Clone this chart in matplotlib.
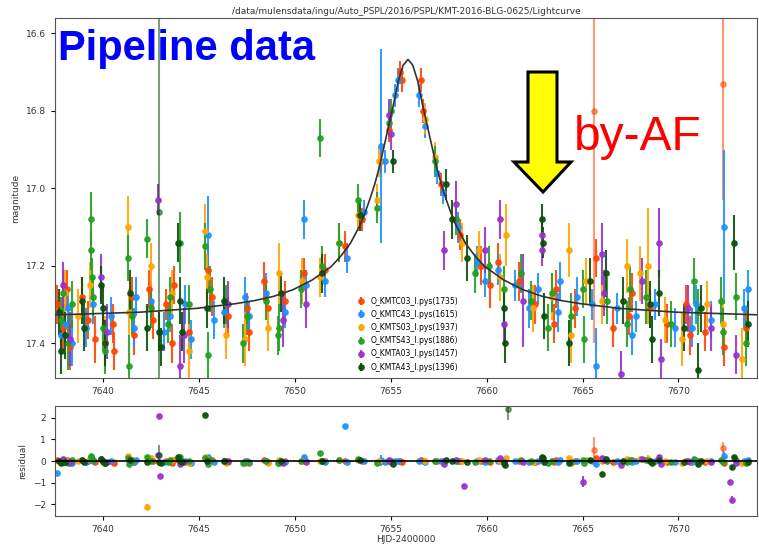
import numpy as np
import matplotlib.pyplot as plt
from matplotlib.patches import Polygon

title = "/data/mulensdata/ingu/Auto_PSPL/2016/PSPL/KMT-2016-BLG-0625/Lightcurve"

# PSPL model curve (HJD-2400000, I mag)
model_t = [7637.5, 7641.9, 7644.9, 7646.9, 7647.9, 7648.9, 7649.9, 7650.9, 7651.9, 7652.4,
           7652.9, 7653.4, 7653.65, 7653.9, 7654.15, 7654.4, 7654.65, 7654.9, 7655.15, 7655.4,
           7655.65, 7655.9, 7656.15, 7656.4, 7656.65, 7656.9, 7657.15, 7657.4, 7657.65, 7657.9,
           7658.15, 7658.4, 7658.9, 7659.4, 7659.9, 7660.9, 7661.9, 7662.9, 7663.9, 7664.9,
           7666.9, 7669.9, 7674.3]
model_mag = [17.327, 17.320, 17.310, 17.298, 17.290, 17.279, 17.262, 17.237, 17.202, 17.175,
             17.142, 17.095, 17.065, 17.030, 16.992, 16.947, 16.892, 16.837, 16.782, 16.722,
             16.682, 16.667, 16.682, 16.722, 16.782, 16.837, 16.892, 16.947, 16.992, 17.030,
             17.065, 17.095, 17.142, 17.175, 17.202, 17.237, 17.262, 17.279, 17.290, 17.298,
             17.310, 17.320, 17.327]

# photometry rows: (hjd, mag, err)
kmtc03 = [(7637.6, 17.30, 0.05), (7637.9, 17.36, 0.06), (7638.3, 17.41, 0.06), (7638.9, 17.28, 0.05),
          (7639.2, 17.34, 0.05), (7639.6, 17.39, 0.06), (7640.5, 17.35, 0.05), (7640.6, 17.42, 0.05),
          (7641.5, 17.28, 0.05), (7642.4, 17.26, 0.05), (7642.6, 17.34, 0.05), (7643.3, 17.30, 0.04),
          (7643.7, 17.25, 0.05), (7644.5, 17.37, 0.06), (7645.5, 17.21, 0.06), (7645.7, 17.28, 0.05),
          (7646.5, 17.33, 0.05), (7647.5, 17.31, 0.04), (7648.4, 17.24, 0.05), (7648.6, 17.31, 0.04),
          (7649.5, 17.29, 0.05), (7650.5, 17.22, 0.04), (7651.6, 17.21, 0.04), (7652.6, 17.15, 0.04),
          (7653.5, 17.08, 0.03), (7654.5, 16.93, 0.03), (7654.9, 16.85, 0.03), (7655.5, 16.70, 0.03),
          (7655.6, 16.72, 0.03), (7656.6, 16.72, 0.03), (7656.7, 16.80, 0.03), (7657.6, 16.99, 0.03),
          (7658.6, 17.12, 0.04), (7659.7, 17.20, 0.05), (7660.2, 17.25, 0.06), (7660.6, 17.19, 0.05),
          (7661.7, 17.24, 0.05), (7662.5, 17.30, 0.05), (7663.6, 17.26, 0.05), (7664.6, 17.31, 0.05),
          (7665.6, 16.80, 0.60), (7665.7, 17.18, 0.05), (7666.6, 17.36, 0.05), (7667.4, 17.33, 0.05),
          (7668.5, 17.31, 0.05), (7669.4, 17.35, 0.05), (7670.4, 17.30, 0.05), (7671.4, 17.37, 0.05),
          (7672.3, 16.73, 0.30), (7672.4, 17.41, 0.05), (7673.5, 17.36, 0.05), (7638.1, 17.26, 0.05),
          (7641.6, 17.38, 0.05), (7643.6, 17.40, 0.05), (7647.6, 17.37, 0.05), (7663.5, 17.35, 0.05),
          (7667.6, 17.27, 0.05), (7670.6, 17.38, 0.05)]

kmtc43 = [(7637.6, 17.88, 0.04), (7637.8, 17.38, 0.05), (7638.2, 17.31, 0.05), (7638.4, 17.40, 0.06),
          (7639.1, 17.36, 0.05), (7639.5, 17.30, 0.05), (7640.4, 17.33, 0.05), (7641.6, 17.36, 0.05),
          (7642.5, 17.29, 0.05), (7643.5, 17.33, 0.04), (7644.3, 17.30, 0.05), (7644.6, 17.39, 0.05),
          (7645.5, 17.12, 0.10), (7646.3, 17.32, 0.04), (7647.6, 17.33, 0.04), (7648.5, 17.27, 0.05),
          (7649.5, 17.32, 0.04), (7650.5, 17.08, 0.05), (7650.6, 17.25, 0.04), (7651.6, 17.24, 0.04),
          (7652.6, 15.56, 0.03), (7652.7, 17.18, 0.04), (7653.6, 17.06, 0.03), (7654.5, 16.89, 0.25),
          (7654.7, 16.93, 0.03), (7655.2, 16.76, 0.03), (7655.4, 16.72, 0.03), (7656.5, 16.76, 0.03),
          (7656.8, 16.84, 0.03), (7657.4, 16.96, 0.03), (7657.7, 17.01, 0.03), (7658.5, 17.10, 0.04),
          (7659.5, 17.19, 0.04), (7659.9, 17.24, 0.04), (7660.6, 17.21, 0.04), (7661.5, 17.25, 0.04),
          (7662.7, 17.26, 0.04), (7663.7, 17.32, 0.05), (7664.7, 17.28, 0.05), (7665.5, 17.30, 0.04),
          (7665.7, 17.46, 0.10), (7666.8, 17.31, 0.04), (7667.8, 17.33, 0.04), (7668.8, 17.30, 0.04),
          (7669.8, 17.36, 0.05), (7670.9, 17.30, 0.05), (7671.7, 17.34, 0.05), (7672.4, 17.10, 0.20),
          (7673.4, 17.31, 0.05), (7638.0, 17.35, 0.05), (7641.7, 17.28, 0.05), (7643.2, 17.37, 0.05),
          (7645.8, 17.34, 0.05), (7647.4, 17.28, 0.05), (7663.8, 17.24, 0.05), (7667.6, 17.38, 0.05),
          (7670.7, 17.36, 0.05), (7673.6, 17.26, 0.05), (7662.2, 17.31, 0.05)]

kmts03 = [(7638.0, 17.27, 0.06), (7638.7, 17.33, 0.07), (7639.3, 17.25, 0.06), (7640.1, 17.40, 0.07),
          (7641.3, 17.10, 0.08), (7641.35, 17.32, 0.06), (7642.3, 19.43, 0.12), (7642.5, 17.20, 0.06),
          (7643.6, 17.27, 0.06), (7644.5, 17.42, 0.07), (7645.3, 17.11, 0.07), (7645.4, 17.23, 0.06),
          (7646.4, 17.38, 0.06), (7647.4, 17.39, 0.07), (7649.2, 17.22, 0.08), (7648.6, 17.36, 0.06),
          (7650.4, 17.24, 0.06), (7651.3, 17.23, 0.05), (7652.3, 17.14, 0.05), (7653.3, 17.07, 0.04),
          (7654.4, 16.93, 0.04), (7654.3, 17.03, 0.04), (7656.8, 16.82, 0.04), (7657.3, 16.92, 0.04),
          (7658.7, 17.14, 0.05), (7659.6, 17.16, 0.05), (7660.7, 17.23, 0.06), (7661.0, 17.12, 0.08),
          (7662.4, 17.31, 0.06), (7663.4, 17.28, 0.06), (7664.3, 17.16, 0.07), (7664.4, 17.38, 0.07),
          (7665.2, 17.24, 0.06), (7666.0, 17.29, 0.06), (7667.3, 17.20, 0.07), (7668.0, 17.22, 0.07),
          (7668.4, 17.20, 0.15), (7669.3, 17.34, 0.06), (7670.2, 17.39, 0.07), (7671.5, 17.30, 0.06),
          (7672.3, 17.35, 0.07), (7673.3, 17.44, 0.08)]

kmts43 = [(7637.8, 17.34, 0.06), (7638.2, 17.40, 0.07), (7638.4, 17.30, 0.06), (7639.4, 17.08, 0.07),
          (7639.4, 17.16, 0.05), (7639.45, 17.23, 0.05), (7639.5, 17.28, 0.05), (7640.0, 17.36, 0.06),
          (7641.3, 17.18, 0.06), (7641.35, 17.46, 0.08), (7641.5, 17.33, 0.05), (7642.3, 17.13, 0.05),
          (7642.5, 17.31, 0.05), (7643.4, 17.35, 0.05), (7644.0, 17.14, 0.08), (7644.5, 17.30, 0.05),
          (7645.3, 17.15, 0.06), (7645.5, 17.43, 0.06), (7646.4, 17.30, 0.05), (7647.3, 17.40, 0.05),
          (7647.5, 17.33, 0.05), (7648.5, 17.29, 0.05), (7649.2, 17.36, 0.06), (7649.1, 17.38, 0.05),
          (7650.3, 17.26, 0.05), (7651.3, 16.87, 0.05), (7651.4, 17.20, 0.05), (7652.3, 17.14, 0.05),
          (7653.3, 17.03, 0.04), (7654.3, 17.05, 0.04), (7654.9, 16.83, 0.03), (7655.0, 16.80, 0.03),
          (7657.3, 16.93, 0.04), (7658.4, 17.08, 0.04), (7659.4, 17.22, 0.05), (7660.1, 17.20, 0.05),
          (7660.9, 17.26, 0.06), (7661.8, 17.22, 0.05), (7662.3, 17.29, 0.05), (7663.4, 17.27, 0.05),
          (7664.4, 17.33, 0.06), (7665.0, 17.26, 0.05), (7666.3, 17.29, 0.06), (7667.3, 17.35, 0.06),
          (7668.3, 17.28, 0.07), (7669.6, 17.35, 0.06), (7671.0, 17.32, 0.06), (7672.3, 17.37, 0.06),
          (7673.0, 17.28, 0.06), (7673.5, 17.40, 0.06), (7637.9, 17.27, 0.06), (7640.1, 17.42, 0.06),
          (7643.5, 17.28, 0.05), (7645.6, 17.26, 0.06), (7663.2, 17.36, 0.06), (7665.1, 17.39, 0.06),
          (7667.5, 17.26, 0.06), (7670.8, 17.24, 0.06), (7672.2, 17.29, 0.06)]

kmta03 = [(7637.9, 17.25, 0.06), (7638.3, 17.39, 0.07), (7639.9, 17.23, 0.06), (7640.2, 17.37, 0.07),
          (7642.85, 17.03, 0.04), (7642.9, 15.23, 0.03), (7642.95, 18.03, 0.05), (7644.0, 17.46, 0.08),
          (7644.2, 17.38, 0.07), (7646.5, 17.30, 0.06), (7649.4, 17.34, 0.07), (7650.6, 17.30, 0.06),
          (7654.9, 16.81, 0.04), (7655.0, 16.86, 0.04), (7657.8, 17.16, 0.05), (7658.4, 17.04, 0.06),
          (7658.8, 18.30, 0.05), (7659.9, 17.16, 0.06), (7660.7, 17.08, 0.05), (7660.9, 17.35, 0.05),
          (7661.9, 17.29, 0.12), (7662.9, 17.12, 0.04), (7662.9, 17.16, 0.04), (7665.0, 18.25, 0.25),
          (7666.0, 17.17, 0.08), (7666.1, 17.27, 0.06), (7667.0, 17.48, 0.06), (7668.1, 17.24, 0.06),
          (7669.0, 17.14, 0.09), (7669.1, 17.44, 0.05), (7670.5, 17.31, 0.06), (7671.7, 17.36, 0.06),
          (7672.7, 18.31, 0.04), (7672.8, 19.11, 0.15), (7673.0, 17.43, 0.05)]

kmta43 = [(7637.7, 17.32, 0.06), (7638.0, 17.38, 0.06), (7638.9, 17.29, 0.06), (7639.0, 17.36, 0.06),
          (7639.9, 17.25, 0.05), (7640.0, 17.31, 0.06), (7641.4, 17.27, 0.06), (7642.3, 17.36, 0.06),
          (7642.9, 17.06, 0.50), (7642.9, 17.37, 0.05), (7643.0, 17.41, 0.05), (7643.9, 17.14, 0.05),
          (7644.1, 17.37, 0.05), (7645.3, 15.17, 0.03), (7645.4, 17.31, 0.05), (7646.3, 17.29, 0.06),
          (7649.3, 17.27, 0.05), (7651.4, 17.22, 0.05), (7653.4, 17.07, 0.04), (7655.1, 16.93, 0.03),
          (7657.9, 16.99, 0.04), (7658.2, 17.08, 0.05), (7659.0, 17.18, 0.06), (7660.9, 17.31, 0.05),
          (7660.95, 17.40, 0.05), (7661.1, 14.84, 0.50), (7662.9, 17.08, 0.04), (7662.95, 17.14, 0.04),
          (7664.3, 17.40, 0.06), (7665.4, 17.24, 0.06), (7666.0, 17.90, 0.03), (7666.2, 17.22, 0.06),
          (7667.1, 17.29, 0.06), (7668.6, 17.39, 0.06), (7669.0, 17.27, 0.06), (7670.3, 17.36, 0.06),
          (7671.0, 17.47, 0.07), (7672.9, 17.14, 0.07), (7672.8, 17.62, 0.06), (7673.6, 17.35, 0.06),
          (7637.8, 17.42, 0.06), (7640.1, 17.40, 0.06), (7644.0, 17.29, 0.06), (7663.0, 17.33, 0.06),
          (7668.5, 17.30, 0.06), (7671.2, 17.31, 0.06)]

datasets = [kmtc03, kmtc43, kmts03, kmts43, kmta03, kmta43]
labels = ["O_KMTC03_I.pys(1735)", "O_KMTC43_I.pys(1615)", "O_KMTS03_I.pys(1937)",
          "O_KMTS43_I.pys(1886)", "O_KMTA03_I.pys(1457)", "O_KMTA43_I.pys(1396)"]
colors = ["orangered", "dodgerblue", "orange", "#22a022", "darkorchid", "#0b4f0b"]

fig = plt.figure(figsize=(7.59, 5.45), dpi=100)
ax = fig.add_axes([0.0725, 0.3064, 0.925, 0.6606])
axr = fig.add_axes([0.0725, 0.0532, 0.925, 0.2018])

for rows, lab, col in zip(datasets, labels, colors):
    d = np.array(rows)
    t, m, e = d[:, 0], d[:, 1], d[:, 2]
    res = np.interp(t, model_t, model_mag) - m
    wide = e > 0.25
    for sel, a in ((~wide, 0.9), (wide, 0.55)):
        if not sel.any():
            continue
        kw = dict(fmt='o', ms=3.8, color=col, ecolor=col, elinewidth=1.5, alpha=a)
        ax.errorbar(t[sel], m[sel], yerr=e[sel], label=lab if a > 0.6 else None, **kw)
        axr.errorbar(t[sel], res[sel], yerr=e[sel], **kw)

ax.plot(model_t, model_mag, color='#333333', lw=1.2, zorder=5)
axr.axhline(0, color='black', lw=1.2, zorder=5)

ax.set_xlim(7637.5, 7674.1)
ax.set_ylim(17.49, 16.56)
axr.set_xlim(7637.5, 7674.1)
axr.set_ylim(-2.55, 2.55)
ax.set_yticks([16.6, 16.8, 17.0, 17.2, 17.4])
axr.set_yticks([-2, -1, 0, 1, 2])
for a in (ax, axr):
    a.set_xticks([7640, 7645, 7650, 7655, 7660, 7665, 7670])
    a.tick_params(labelsize=6.5, labelcolor='#333333', length=3)
    for s in a.spines.values():
        s.set_color('#555555')

ax.set_title(title, fontsize=6.5, pad=3, color='#333333')
ax.set_ylabel("magnitude", fontsize=6.5, color='#333333')
axr.set_ylabel("residual", fontsize=6.5, color='#333333')
axr.set_xlabel("HJD-2400000", fontsize=6.5, color='#333333', labelpad=1)

ax.legend(loc='upper left', bbox_to_anchor=(0.42, 0.245), frameon=False, fontsize=5.5,
          handlelength=1.0, handletextpad=0.8, labelspacing=0.55)

fig.text(58 / 759, 1 - 60 / 545, "Pipeline data", color='#0000ff', fontsize=30,
         fontweight='bold', family='Liberation Sans', va='baseline')
fig.text(574 / 759, 1 - 150 / 545, "by-AF", color='red', fontsize=34.5,
         family='Liberation Sans', va='baseline')

# yellow arrow pointing at the bump after the peak
arrow_px = [(528, 72), (557, 72), (557, 162), (571, 162), (543, 192), (514, 162), (528, 162)]
arrow = Polygon([(x / 759, 1 - y / 545) for x, y in arrow_px], closed=True,
                facecolor='yellow', edgecolor='black', lw=2.2, transform=fig.transFigure)
fig.patches.append(arrow)

fig.savefig("out.png", dpi=100)
